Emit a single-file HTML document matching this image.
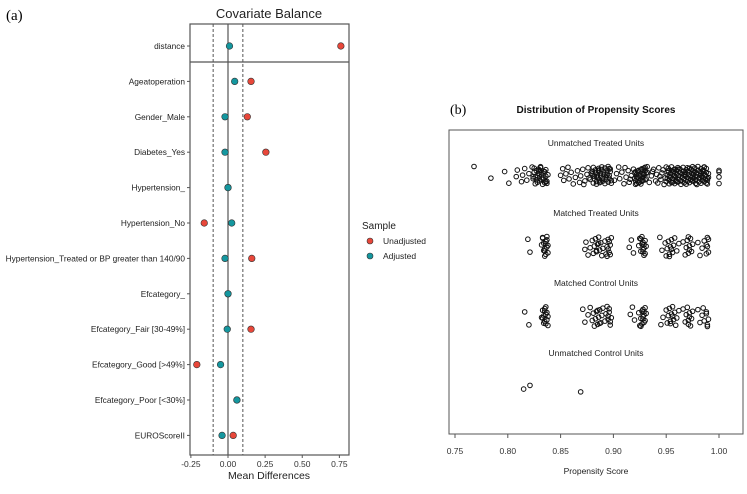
<!DOCTYPE html>
<html><head><meta charset="utf-8">
<style>
body{margin:0;background:#fff;width:747px;height:489px;overflow:hidden;font-family:"Liberation Sans",Arial,sans-serif}
svg text{font-family:"Liberation Sans",Arial,sans-serif}
</style></head>
<body>
<svg id="chart" width="747" height="489" viewBox="0 0 747 489">
<text x="6" y="20" font-family="Liberation Serif" font-size="15" fill="#000" style="font-family:'Liberation Serif',serif">(a)</text>
<text x="269" y="18" font-size="13" text-anchor="middle" fill="#222">Covariate Balance</text>
<g id="left"></g>
<g>
<text x="362" y="229" font-size="10" fill="#222">Sample</text>
<circle cx="370" cy="241" r="3" fill="#e8473a" stroke="#333" stroke-width="0.6"/>
<text x="383" y="244" font-size="8.5" fill="#222">Unadjusted</text>
<circle cx="370" cy="256" r="3" fill="#14979f" stroke="#333" stroke-width="0.6"/>
<text x="383" y="259" font-size="8.5" fill="#222">Adjusted</text>
</g>
<text x="450" y="114" font-size="14" style="font-family:'Liberation Serif',serif" fill="#000">(b)</text>
<text x="596" y="113" font-size="10" font-weight="bold" text-anchor="middle" fill="#111">Distribution of Propensity Scores</text>
<g id="right"></g>
</svg>
<script>
const covariates=["distance","Ageatoperation","Gender_Male","Diabetes_Yes","Hypertension_","Hypertension_No","Hypertension_Treated or BP greater than 140/90","Efcategory_","Efcategory_Fair [30-49%]","Efcategory_Good [>49%]","Efcategory_Poor [<30%]","EUROScoreII"];
const unadjusted=[0.76,0.155,0.13,0.255,0,-0.16,0.16,0,0.155,-0.21,0.06,0.035];
const adjusted=[0.01,0.045,-0.02,-0.02,0,0.025,-0.02,0,-0.005,-0.05,0.06,-0.04];
const xTicks=[-0.25,0,0.25,0.5,0.75];
const xTickLabels=["-0.25","0.00","0.25","0.50","0.75"];
const threshold=0.1;

const NS="http://www.w3.org/2000/svg";
function mk(p,t,a){const e=document.createElementNS(NS,t);for(const k in a)e.setAttribute(k,a[k]);p.appendChild(e);return e;}
const L=document.getElementById('left');
const lx=v=>228+v*148.5;
const ly=i=>46+i*35.4;
const box={x0:190,x1:349,y0:24,y1:455};
let e;
e=mk(L,'rect',{x:box.x0,y:box.y0,width:box.x1-box.x0,height:box.y1-box.y0,fill:'none',stroke:'#555','stroke-width':1.2});

e=mk(L,'line',{x1:box.x0,x2:box.x1,y1:62,y2:62,stroke:'#555','stroke-width':1.2});

e=mk(L,'line',{x1:lx(0),x2:lx(0),y1:box.y0,y2:box.y1,stroke:'#555','stroke-width':1.2});

[-threshold,threshold].forEach(t=>{e=mk(L,'line',{x1:lx(t),x2:lx(t),y1:box.y0,y2:box.y1,stroke:'#555','stroke-width':1,'stroke-dasharray':'3,2'});
});
xTicks.forEach((t,i)=>{e=mk(L,'line',{x1:lx(t),x2:lx(t),y1:box.y1,y2:box.y1+3,stroke:'#555'});

e=mk(L,'text',{x:lx(t),y:box.y1+12,'font-size':8.5,'text-anchor':'middle',fill:'#333'});e.textContent=xTickLabels[i];
});
e=mk(L,'text',{x:269,y:479,'font-size':10.5,'text-anchor':'middle',fill:'#222'});e.textContent='Mean Differences';

covariates.forEach((c,i)=>{const y=ly(i);
e=mk(L,'line',{x1:box.x0-3,x2:box.x0,y1:y,y2:y,stroke:'#555'});

e=mk(L,'text',{x:box.x0-5,y:y+3,'font-size':8.3,'text-anchor':'end',fill:'#222'});e.textContent=c;

e=mk(L,'circle',{cx:lx(unadjusted[i]),cy:y,r:3.3,fill:'#e8473a',stroke:'#333','stroke-width':0.6});

e=mk(L,'circle',{cx:lx(adjusted[i]),cy:y,r:3.3,fill:'#14979f',stroke:'#333','stroke-width':0.6});

});

const groups=["Unmatched Treated Units","Matched Treated Units","Matched Control Units","Unmatched Control Units"];
const unmatchedTreated=[.768,.784,.797,.801,.808,.809,.813,.814,.816,.818,.820,
.823,.824,.825,.826,.826,.827,.828,.828,.829,.830,.830,.831,.832,.832,.833,.834,.834,.835,.836,.836,.837,.838,.825,.827,.829,.831,.833,.835,.837,.824,.830,.836,
.850,.852,.853,.855,.857,.858,.860,.862,.864,.866,.868,.869,.871,.873,.875,.876,.878,.879,.872,.877,
.880,.881,.882,.883,.884,.885,.886,.887,.888,.889,.890,.891,.892,.893,.894,.895,.896,.897,.898,.880,.881,.882,.883,.884,.885,.886,.887,.888,.889,.890,.891,.892,.893,.894,.895,.896,.897,.898,.884,.886,.888,.894,.896,
.901,.903,.905,.906,.908,.910,.912,.914,.915,.917,.919,.921,.922,.911,.916,
.920,.921,.922,.923,.924,.925,.926,.927,.928,.929,.930,.931,.932,.920,.921,.922,.923,.924,.925,.926,.927,.928,.929,.930,.931,.932,.926,.928,.930,
.934,.936,.938,.940,.941,.943,.945,.946,.948,.949,.937,.942,.944,.947,
.950,.951,.952,.953,.954,.955,.956,.957,.958,.959,.960,.961,.962,.963,.964,.965,.966,.967,.968,.969,.970,.971,.972,.973,.974,.975,.976,.977,.978,.979,.980,.981,.982,.983,.984,.985,.986,.987,.988,.989,.990,
.950,.951,.952,.953,.954,.955,.956,.957,.958,.959,.960,.961,.962,.963,.964,.965,.966,.967,.968,.969,.970,.971,.972,.973,.974,.975,.976,.977,.978,.979,.980,.981,.982,.983,.984,.985,.986,.987,.988,.989,.990,
.952,.955,.958,.961,.964,.967,.970,.973,.976,.979,.982,.985,.988,.953,.957,.960,.968,.972,.975,.983,.986,.989,
1.0,1.0,1.0,1.0];
const matchedTreated=[.819,.821,.832,.833,.834,.834,.835,.835,.836,.836,.837,.837,.838,.838,.833,.835,.836,.837,
.873,.874,.876,.878,.880,.881,.882,.883,.884,.885,.886,.887,.888,.889,.890,.892,.893,.894,.895,.896,.897,.898,.884,.886,.894,.895,.896,.897,
.915,.917,.919,.924,.925,.926,.927,.927,.928,.928,.929,.929,.930,.930,.931,.926,.928,.929,
.944,.946,.949,.950,.951,.952,.953,.954,.955,.956,.957,.958,.960,.962,.953,.955,
.966,.968,.969,.970,.971,.972,.973,.974,.975,.971,.972,
.980,.982,.984,.986,.988,.989,.990,.990,.988,.989];
const matchedControl=[.816,.820,.832,.833,.834,.834,.835,.835,.836,.836,.837,.837,.838,.833,.835,.836,.838,
.871,.873,.876,.878,.880,.881,.882,.883,.884,.885,.886,.887,.888,.889,.890,.892,.893,.894,.895,.896,.897,.898,.885,.887,.895,.896,.897,
.916,.918,.920,.924,.925,.926,.927,.927,.928,.928,.929,.929,.930,.930,.931,.926,.928,.929,
.945,.947,.950,.951,.952,.953,.954,.955,.956,.957,.958,.959,.960,.962,.954,.956,
.966,.968,.969,.970,.971,.972,.973,.974,.975,.971,.972,
.980,.982,.984,.985,.986,.988,.989,.990,.988,.989];
const unmatchedControl=[.815,.821,.869];
const pTicks=[0.75,0.80,0.85,0.90,0.95,1.00];
const pTickLabels=["0.75","0.80","0.85","0.90","0.95","1.00"];

const R=document.getElementById('right');
const px=v=>455+(v-0.75)*1056;
e=mk(R,'rect',{x:449,y:130,width:294,height:304,fill:'none',stroke:'#555','stroke-width':1});

const labelY=[143,213,283,353];
const bandY=[175.5,246.5,316.5,390];
const bandH=[9,10,10,5];
groups.forEach((g,i)=>{e=mk(R,'text',{x:596,y:labelY[i]+3,'font-size':8.5,'text-anchor':'middle',fill:'#222'});e.textContent=g;
});
[unmatchedTreated,matchedTreated,matchedControl,unmatchedControl].forEach((arr,gi)=>{
arr.forEach((v,i)=>{const j=((i*7919+gi*13)%97)/96*2-1;
const c=mk(R,'circle',{cx:px(v),cy:bandY[gi]+j*bandH[gi],r:2.3,fill:'none',stroke:'#111','stroke-width':1.0});

});});
pTicks.forEach((t,i)=>{e=mk(R,'line',{x1:px(t),x2:px(t),y1:434,y2:438,stroke:'#555'});

e=mk(R,'text',{x:px(t),y:454,'font-size':8.5,'text-anchor':'middle',fill:'#333'});e.textContent=pTickLabels[i];
});
e=mk(R,'line',{x1:px(0.75),x2:px(1.0),y1:434,y2:434,stroke:'#555'});

e=mk(R,'text',{x:596,y:474,'font-size':8.5,'text-anchor':'middle',fill:'#222'});e.textContent='Propensity Score';

</script>
</body></html>
